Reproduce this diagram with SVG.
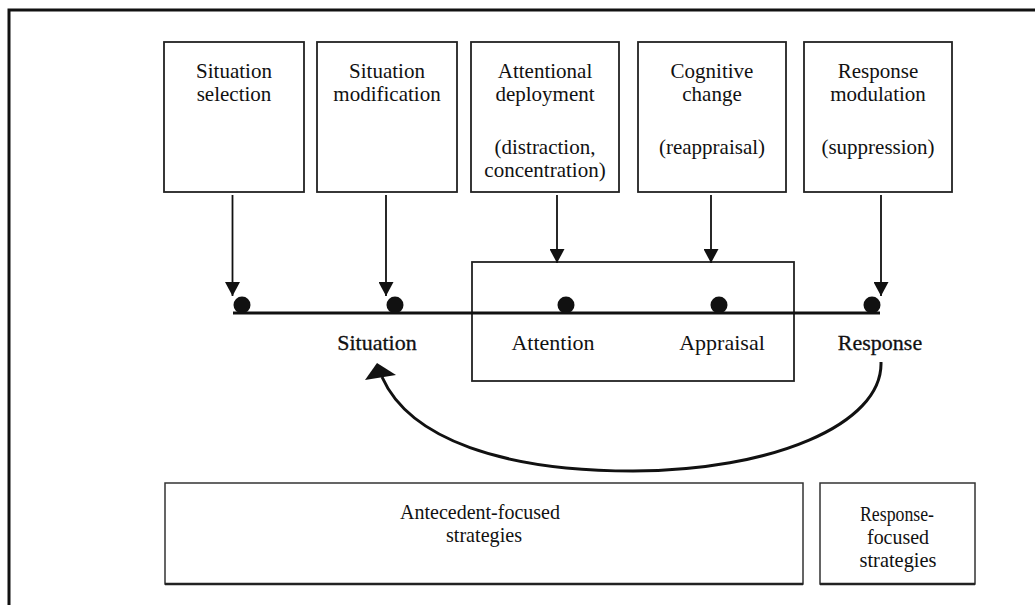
<svg xmlns="http://www.w3.org/2000/svg" width="1035" height="605" viewBox="0 0 1035 605">
<style>
.box{fill:#fff;stroke:#222;stroke-width:1.8}
.t{font-family:"Liberation Serif","Times New Roman",serif;font-size:21px;fill:#111;text-anchor:middle}
.lb{font-family:"Liberation Serif","Times New Roman",serif;font-size:22px;fill:#111;text-anchor:middle}
.bd{stroke:#111;stroke-width:0.3}
.s{font-family:"Liberation Serif","Times New Roman",serif;font-size:21px;fill:#111;text-anchor:middle}
.ar{stroke:#111;stroke-width:1.8;fill:none;marker-end:url(#ah)}
</style>
<defs>
<marker id="ah" viewBox="0 0 14 15" refX="14" refY="7.5" markerWidth="14" markerHeight="15" markerUnits="userSpaceOnUse" orient="auto">
<path d="M0,0 L14,7.5 L0,15 Z" fill="#111"/>
</marker>
</defs>
<rect width="1035" height="605" fill="#fff"/>
<path d="M9,620 V10 H1040" fill="none" stroke="#111" stroke-width="3"/>

<g id="n-selection"><rect class="box" x="164" y="42" width="140" height="150"/><text class="t" x="234" y="78">Situation</text><text class="t" x="234" y="101">selection</text></g>
<g id="n-modification"><rect class="box" x="317" y="42" width="140" height="150"/><text class="t" x="387" y="78">Situation</text><text class="t" x="387" y="101">modification</text></g>
<g id="n-attentional"><rect class="box" x="471" y="42" width="148" height="150"/><text class="t" x="545" y="78">Attentional</text><text class="t" x="545" y="101">deployment</text><text class="t" x="545" y="154">(distraction,</text><text class="t" x="545" y="177">concentration)</text></g>
<g id="n-cognitive"><rect class="box" x="638" y="42" width="148" height="150"/><text class="t" x="712" y="78">Cognitive</text><text class="t" x="712" y="101">change</text><text class="t" x="712" y="154">(reappraisal)</text></g>
<g id="n-response-mod"><rect class="box" x="804" y="42" width="148" height="150"/><text class="t" x="878" y="78">Response</text><text class="t" x="878" y="101">modulation</text><text class="t" x="878" y="154">(suppression)</text></g>

<g id="n-inner"><rect x="472" y="262" width="322" height="119" fill="none" stroke="#222" stroke-width="1.8"/></g>

<g id="timeline">
<line x1="233" y1="313" x2="880" y2="313" stroke="#111" stroke-width="3"/>
<circle cx="242" cy="305" r="8.5" fill="#111"/>
<circle cx="395" cy="305" r="8.5" fill="#111"/>
<circle cx="566" cy="305" r="8.5" fill="#111"/>
<circle cx="719" cy="305" r="8.5" fill="#111"/>
<circle cx="872" cy="305" r="8.5" fill="#111"/>
<text class="lb bd" x="377" y="350">Situation</text>
<text class="lb" x="553" y="350">Attention</text>
<text class="lb" x="722" y="350">Appraisal</text>
<text class="lb bd" x="880" y="350">Response</text>
</g>

<g id="connectors">
<line class="ar" x1="232.5" y1="195" x2="232.5" y2="296"/>
<line class="ar" x1="386" y1="195" x2="386" y2="296"/>
<line class="ar" x1="557" y1="195" x2="557" y2="263"/>
<line class="ar" x1="711" y1="195" x2="711" y2="263"/>
<line class="ar" x1="881" y1="195" x2="881" y2="296"/>
<path d="M881,362 C883,425 770,471 633,471 C505,471 410,440 382,377" fill="none" stroke="#111" stroke-width="3"/>
<polygon points="377,363 365,380 396,375" fill="#111"/>
</g>

<g id="n-antecedent"><rect x="165" y="483" width="638" height="101" fill="#fff" stroke="#333" stroke-width="1.5"/><line x1="165" y1="584" x2="803" y2="584" stroke="#222" stroke-width="2.5"/><text class="s" x="480" y="519" textLength="160" lengthAdjust="spacingAndGlyphs">Antecedent-focused</text><text class="s" x="484" y="542" textLength="76" lengthAdjust="spacingAndGlyphs">strategies</text></g>
<g id="n-responsefocused"><rect x="820" y="483" width="155" height="101" fill="#fff" stroke="#333" stroke-width="1.5"/><line x1="820" y1="584" x2="975" y2="584" stroke="#222" stroke-width="2.5"/><text class="s" x="897" y="521" textLength="74" lengthAdjust="spacingAndGlyphs">Response-</text><text class="s" x="898" y="544" textLength="62" lengthAdjust="spacingAndGlyphs">focused</text><text class="s" x="898" y="567" textLength="77" lengthAdjust="spacingAndGlyphs">strategies</text></g>
</svg>
